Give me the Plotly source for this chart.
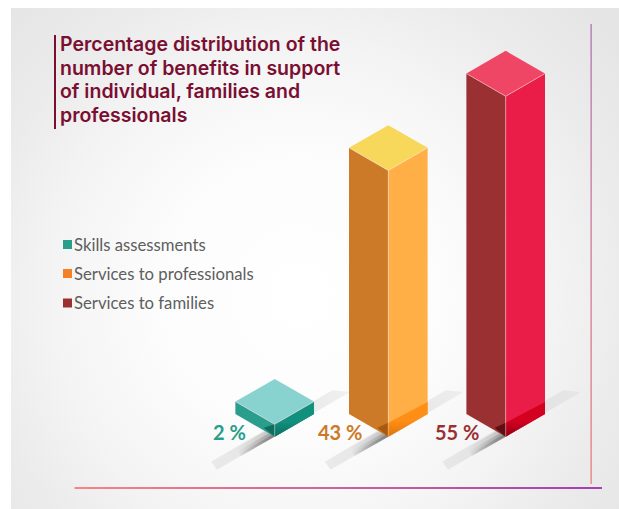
import plotly.graph_objects as go

categories = ["Skills assessments", "Services to professionals", "Services to families"]
values = [2, 43, 55]
value_labels = ["2 %", "43 %", "55 %"]
title_lines = ["Percentage distribution of the", "number of benefits in support",
               "of individual, families and", "professionals"]

W, H = 619, 509
BASE_PX, SCALE = 436.7, 6.19      # pixel row of value 0, pixels per percentage point
FRONT_X = [274.7, 388.3, 505.7]
LABEL_X = [229.5, 339.5, 457]
LEGEND_Y = [244.5, 273.5, 303]
HALF_W, HALF_D = 39.3, 22.7
STYLE = [
    dict(top="#88D3D0", left="#2A9E8C", right="#12907E", band="#12907E", band2="#0B6E60", corner="#0F6E60", text="#2A9E8C"),
    dict(top="#F8D85A", left="#CC7A28", right="#FFAF45", band="#FF8E16", band2="#E07408", corner="#A85A0C", text="#CC7A28"),
    dict(top="#F04666", left="#9A3032", right="#EA1C48", band="#D40020", band2="#8E0014", corner="#5E0F14", text="#9A3032"),
]
TITLE_COLOR = "#7A0F32"


def Y(px):
    return (BASE_PX - px) / SCALE


def D(px):
    return px / SCALE


fig = go.Figure()


def poly(xs, ys, color=None, grad=None, line=None):
    kw = dict(x=list(xs) + [xs[0]], y=list(ys) + [ys[0]], mode="lines", fill="toself",
              hoverinfo="skip", showlegend=False)
    if grad:
        kw["fillgradient"] = grad
        kw["fillcolor"] = "rgba(0,0,0,0)"
    else:
        kw["fillcolor"] = color
    kw["line"] = line or dict(width=0)
    fig.add_trace(go.Scatter(**kw))


# panel background: a large radial square clipped by the plot area, white margins on top
CX, CY, R = 300, 295, 410
poly([CX - R, CX + R, CX + R, CX - R], [Y(CY - R), Y(CY - R), Y(CY + R), Y(CY + R)],
     grad=dict(type="radial", colorscale=[[0, "#FFFFFF"], [0.35, "#FCFCFC"], [0.6, "#F4F4F4"],
                                           [0.8, "#EBEBEB"], [1, "#E5E5E5"]]))
poly([0, 11, 11, 0], [Y(0), Y(0), Y(H), Y(H)], "#FFFFFF")
poly([0, W, W, 0], [Y(0), Y(0), Y(8), Y(8)], "#FFFFFF")

# ground shadows
for fx in FRONT_X:
    xs = [fx - 57.7, fx - 63.5, fx + 57.5, fx + 75.3]
    ps = [BASE_PX + 33, BASE_PX + 25, BASE_PX - 46.5, BASE_PX - 44.7]
    poly(xs, [Y(p) for p in ps], grad=dict(
        type="horizontal",
        colorscale=[[0, "rgba(205,205,205,0.35)"], [0.5, "rgba(205,205,205,0.5)"], [1, "rgba(205,205,205,0.25)"]]))
    # darker strip along the lower edge
    for w, a in [(8, 0.2), (5, 0.28), (2.5, 0.35)]:
        xs = [fx - 34, fx - 34 - w * 0.6, fx + 40 - w * 0.6, fx + 40]
        ps = [BASE_PX + 19.5, BASE_PX + 19.5 - w, BASE_PX - 23 - w, BASE_PX - 23]
        poly(xs, [Y(p) for p in ps], grad=dict(
            type="horizontal",
            colorscale=[[0, "rgba(70,70,70,0)"], [0.45, f"rgba(70,70,70,{a})"], [0.6, f"rgba(70,70,70,{a})"], [1, "rgba(70,70,70,0.05)"]]))

# 3-D bars, heights from the values
SEAM = dict(width=0.8, color="rgba(255,225,225,0.6)")
for fx, v, s in zip(FRONT_X, values, STYLE):
    lx, rx = fx - HALF_W, fx + HALF_W
    d = D(HALF_D)
    poly([lx, fx, fx, lx], [d, 0, v, v + d], s["left"])
    poly([fx, rx, rx, fx], [0, d, v + d, v], s["right"])
    poly([fx, rx, fx, lx], [v, v + d, v + 2 * d, v + d], s["top"])
    # shadow cast on the foot of the bar
    foot = min(v, D(14))
    poly([fx, rx, rx, fx], [0, d, d + foot * 0.85, foot],
         grad=dict(type="vertical", colorscale=[[0, s["band2"]], [0.45, s["band"]], [1, s["band"]]]))
    poly([fx, fx - 11, fx], [0, D(9) if foot > 12 / SCALE else D(6.5), foot], s["corner"])
    # seams
    fig.add_trace(go.Scatter(x=[lx, fx, rx], y=[v + d, v, v + d], mode="lines", line=SEAM,
                             hoverinfo="skip", showlegend=False))
    fig.add_trace(go.Scatter(x=[fx, fx], y=[0, v], mode="lines", line=SEAM,
                             hoverinfo="skip", showlegend=False))

# right rule and bottom rule
poly([590.6, 591.6, 591.6, 590.6], [Y(24), Y(24), Y(484), Y(484)],
     grad=dict(type="vertical", colorscale=[[0, "#E85C5C"], [1, "#9E50A0"]]))
poly([74.5, 602, 602, 74.5], [Y(487), Y(487), Y(489), Y(489)],
     grad=dict(type="horizontal", colorscale=[[0, "#F88484"], [1, "#A43FB4"]]))
# title rule
poly([54, 56, 56, 54], [Y(35), Y(35), Y(129), Y(129)], TITLE_COLOR)

# legend swatches
fig.add_trace(go.Scatter(x=[67.5] * 3, y=[Y(p) for p in LEGEND_Y], mode="markers",
                         marker=dict(symbol="square", size=9, color=[STYLE[0]["left"], "#F58025", STYLE[2]["left"]]),
                         hoverinfo="skip", showlegend=False))

ann = []
for line, p in zip(title_lines, [44, 67.5, 91, 115]):
    ann.append(dict(x=58, y=Y(p), text=line, font=dict(family="Inter", size=19.5, color=TITLE_COLOR, weight=600)))
for c, p in zip(categories, LEGEND_Y):
    ann.append(dict(x=71.5, y=Y(p), text=c, font=dict(family="Lato", size=16.7, color="#5E5E5E")))
for t, x, s in zip(value_labels, LABEL_X, STYLE):
    ann.append(dict(x=x, y=Y(432), text=t, xanchor="center",
                    font=dict(family="Lato", size=20, color=s["text"], weight=700)))
for a in ann:
    a.setdefault("xanchor", "left")
    a.update(xref="x", yref="y", yanchor="middle", showarrow=False, align="left")

fig.update_layout(
    width=W, height=H, margin=dict(l=0, r=0, t=0, b=0), autosize=False,
    paper_bgcolor="#FFFFFF", plot_bgcolor="rgba(0,0,0,0)", showlegend=False,
    xaxis=dict(range=[0, W], visible=False, fixedrange=True),
    yaxis=dict(range=[Y(H), Y(0)], visible=False, fixedrange=True),
    annotations=ann,
)
fig.write_html("out.html", config=dict(displayModeBar=False),
               post_script="document.body.style.margin='0';")
